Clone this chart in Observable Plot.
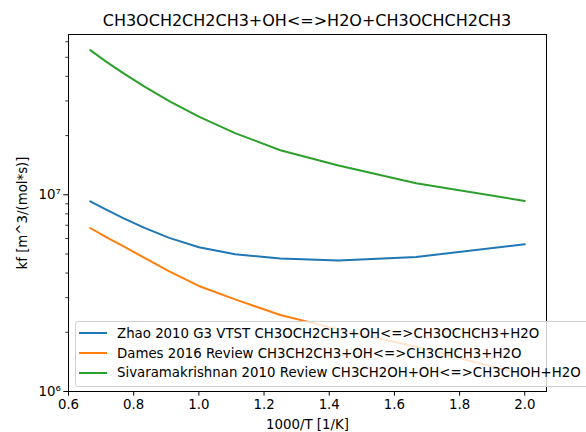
<!DOCTYPE html>
<html><head><meta charset="utf-8">
<script src="https://cdn.jsdelivr.net/npm/d3@7"></script>
<script src="https://cdn.jsdelivr.net/npm/@observablehq/plot@0.6"></script>
<style>
body{margin:0;background:#fff;}
#wrap{position:relative;width:586px;height:432px;overflow:hidden;font-family:"DejaVu Sans",sans-serif;color:#000;}
#title{position:absolute;left:0;top:11px;width:614px;text-align:center;font-size:16px;line-height:19px;white-space:nowrap;}
#chart{position:absolute;left:0;top:0;}
#legend{position:absolute;left:75px;top:321px;width:530px;box-sizing:border-box;padding:1.5px 0 3px 0;background:rgba(255,255,255,0.8);border:1px solid #d0d0d0;border-radius:3px;font-size:13.33px;}
.row{display:flex;align-items:center;height:19.7px;white-space:nowrap;}
.sw{width:28px;height:0;border-top:2px solid;margin-left:3px;margin-right:10px;}
</style></head><body>
<div id="wrap"><div id="title"></div><div id="chart"></div><div id="legend"></div></div>
<script>
const titleText = "CH3OCH2CH2CH3+OH<=>H2O+CH3OCHCH2CH3";
const xLabel = "1000/T [1/K]";
const yLabel = "kf [m^3/(mol*s)]";
const invT = [0.6667, 0.7143, 0.7692, 0.8333, 0.9091, 1.0, 1.1111, 1.25, 1.4286, 1.6667, 2.0];
const seriesNames = [
  "Zhao 2010 G3 VTST CH3OCH2CH3+OH<=>CH3OCHCH3+H2O",
  "Dames 2016 Review CH3CH2CH3+OH<=>CH3CHCH3+H2O",
  "Sivaramakrishnan 2010 Review CH3CH2OH+OH<=>CH3CHOH+H2O"
];
const seriesColors = ["#1f77b4", "#ff7f0e", "#2ca02c"];
const zhao = [9.27e6, 8.43e6, 7.59e6, 6.785e6, 6.04e6, 5.41e6, 4.985e6, 4.75e6, 4.63e6, 4.83e6, 5.60e6];
const dames = [6.78e6, 6.11e6, 5.47e6, 4.78e6, 4.08e6, 3.44e6, 2.94e6, 2.45e6, 2.07e6, 1.69e6, 1.21e6];
const siva = [5.44e7, 4.77e7, 4.14e7, 3.55e7, 2.995e7, 2.497e7, 2.058e7, 1.685e7, 1.41e7, 1.144e7, 9.31e6];
const xTicks = [0.6, 0.8, 1.0, 1.2, 1.4, 1.6, 1.8, 2.0];
const yMajor = [1e6, 1e7];
const yMajorLabels = ["10\u2076", "10\u2077"];
const yMinor = [2e6,3e6,4e6,5e6,6e6,7e6,8e6,9e6,2e7,3e7,4e7,5e7,6e7];

const allSeries = [zhao, dames, siva];
const rows = [];
allSeries.forEach((vals, s) => vals.forEach((v, i) => rows.push({x: invT[i], y: v, s})));

document.getElementById("title").textContent = titleText;

const plot = Plot.plot({
  width: 586, height: 432,
  marginLeft: 68, marginRight: 40, marginTop: 34, marginBottom: 41,
  style: {fontFamily: "DejaVu Sans, sans-serif", fontSize: "13.33px", color: "#000", background: "transparent"},
  x: {domain: [0.6, 2.0667]},
  y: {type: "log", domain: [1e6, 6.53e7]},
  marks: [
    Plot.axisX({ticks: xTicks, tickSize: 4.67, tickPadding: 3, tickFormat: d => d.toFixed(1), strokeWidth: 1,
      label: xLabel, labelAnchor: "center", labelArrow: "none", labelOffset: 37.5}),
    Plot.axisY({ticks: yMajor, tickSize: 4.67, tickPadding: 3, tickFormat: d => yMajorLabels[yMajor.indexOf(d)], strokeWidth: 1,
      label: yLabel, labelAnchor: "center", labelArrow: "none", labelOffset: 51}),
    Plot.axisY({ticks: yMinor, tickSize: 2.67, tickFormat: () => "", strokeWidth: 0.8, label: null}),
    ...allSeries.map((vals, s) => Plot.line(rows.filter(r => r.s === s), {x: "x", y: "y", stroke: seriesColors[s], strokeWidth: 2})),
    Plot.frame({stroke: "#000", strokeWidth: 1})
  ]
});
document.getElementById("chart").appendChild(plot);

const legend = document.getElementById("legend");
seriesNames.forEach((name, i) => {
  const row = document.createElement("div");
  row.className = "row";
  const sw = document.createElement("div");
  sw.className = "sw";
  sw.style.borderTopColor = seriesColors[i];
  const t = document.createElement("span");
  t.textContent = name;
  row.appendChild(sw); row.appendChild(t);
  legend.appendChild(row);
});
</script>
</body></html>
